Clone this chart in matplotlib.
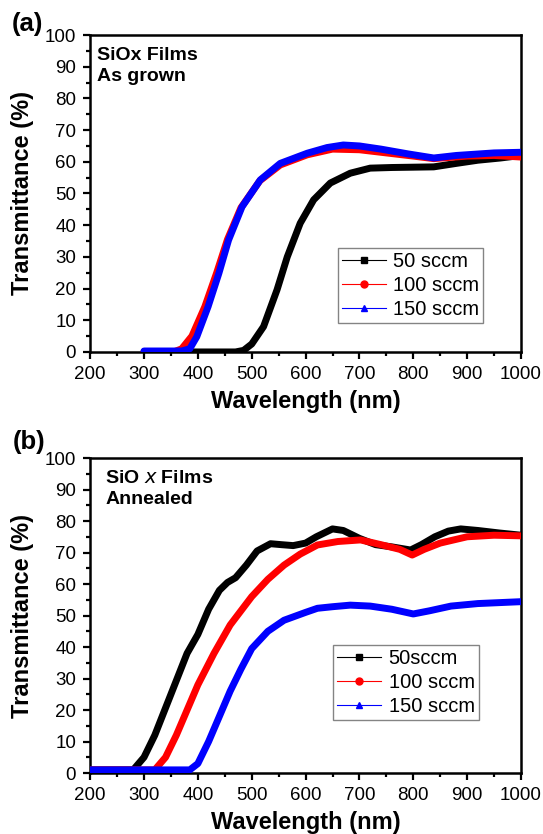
import matplotlib
matplotlib.use("Agg")
import matplotlib.pyplot as plt
from matplotlib.ticker import MultipleLocator

plt.rcParams["font.family"] = ["Liberation Sans", "DejaVu Sans"]

# ---- panel (a): as grown ----
a_black_x = [300, 400, 470, 485, 500, 522, 547, 566, 590, 615, 646, 683, 720, 760, 800, 838, 880, 920, 962, 1000]
a_black_y = [0, 0, 0, 0.5, 2.5, 8, 19.6, 30, 40.6, 48, 53.3, 56.4, 58, 58.2, 58.3, 58.4, 59.5, 60.5, 61.2, 62]
a_red_x = [300, 355, 370, 389, 413, 435, 455, 480, 515, 553, 603, 650, 700, 750, 800, 838, 900, 950, 1000]
a_red_y = [0, 0, 1, 5, 14.3, 25, 35.5, 45.5, 54, 59, 62.2, 64, 63.8, 62.8, 61.8, 61, 61.8, 62, 61.5]
a_blue_x = [300, 370, 385, 398, 419, 439, 457, 482, 516, 553, 603, 640, 670, 700, 740, 790, 838, 880, 950, 1000]
a_blue_y = [0.3, 0.3, 1, 4.8, 14.3, 24.8, 35.3, 45.8, 54.3, 59.5, 62.7, 64.5, 65.3, 65, 64, 62.5, 61.2, 62, 62.8, 63]

# ---- panel (b): annealed ----
b_black_x = [200, 280, 300, 320, 350, 380, 400, 420, 440, 455, 470, 490, 510, 535, 555, 577, 600, 620, 650, 670, 700, 730, 760, 795, 815, 840, 865, 888, 920, 960, 1000]
b_black_y = [1, 1, 5, 12, 25, 38, 44, 52, 58, 60.5, 62, 66, 70.5, 72.8, 72.5, 72.2, 73, 75, 77.5, 77, 74.5, 72.5, 71.8, 70.8, 72.5, 75, 76.8, 77.5, 77, 76.2, 75.5]
b_red_x = [200, 320, 340, 360, 380, 400, 430, 460, 500, 530, 560, 590, 622, 660, 702, 740, 775, 798, 820, 850, 900, 950, 1000]
b_red_y = [1, 1, 5, 12, 20, 28, 38, 47, 56, 61.5, 66, 69.5, 72.4, 73.5, 74, 72.5, 71, 69.2, 71, 73, 75, 75.5, 75.3]
b_blue_x = [200, 385, 400, 420, 440, 460, 480, 500, 530, 560, 600, 622, 650, 683, 720, 760, 800, 830, 870, 920, 1000]
b_blue_y = [1, 1, 3, 10, 18, 26, 33, 39.5, 45, 48.5, 51, 52.3, 52.8, 53.3, 53, 52, 50.5, 51.5, 53, 53.8, 54.4]

labels_a = ["50 sccm", "100 sccm", "150 sccm"]
labels_b = ["50sccm", "100 sccm", "150 sccm"]
colors = ["black", "red", "blue"]
markers = ["s", "o", "^"]

fig = plt.figure(figsize=(5.43, 8.34), dpi=100)
ax_a = fig.add_axes([0.166, 0.578, 0.7935, 0.380])
ax_b = fig.add_axes([0.166, 0.0731, 0.7935, 0.3777])

# axes, data, legend labels, note, tag, tag pos, note x, legend anchor
panels = [
    (ax_a, [(a_black_x, a_black_y), (a_red_x, a_red_y), (a_blue_x, a_blue_y)], labels_a,
     "SiOx Films\nAs grown", "(a)", (-0.183, 1.035), 0.016, (0.575, 0.091)),
    (ax_b, [(b_black_x, b_black_y), (b_red_x, b_red_y), (b_blue_x, b_blue_y)], labels_b,
     r"SiO $\mathit{x}$ Films" + "\nAnnealed", "(b)", (-0.18, 1.05), 0.035, (0.564, 0.168)),
]

for ax, series, labels, note, tag, tagpos, notex, legpos in panels:
    for (x, y), c, m, lab in zip(series, colors, markers, labels):
        ax.plot(x, y, color=c, lw=5, solid_capstyle="round", solid_joinstyle="round", zorder=3)
        ax.plot([], [], color=c, lw=0.8, marker=m, ms=5, label=lab)
    ax.set_xlim(200, 1000)
    ax.set_ylim(0, 100)
    ax.xaxis.set_major_locator(MultipleLocator(100))
    ax.xaxis.set_minor_locator(MultipleLocator(50))
    ax.yaxis.set_major_locator(MultipleLocator(10))
    ax.yaxis.set_minor_locator(MultipleLocator(5))
    ax.tick_params(which="major", direction="out", length=5, width=1.6, labelsize=13.5, pad=5)
    ax.tick_params(which="minor", direction="out", length=3, width=1.6)
    ax.tick_params(top=False, right=False)
    for s in ax.spines.values():
        s.set_linewidth(1.8)
    ax.set_xlabel("Wavelength (nm)", fontsize=17, fontweight="bold", labelpad=5)
    ax.set_ylabel("Transmittance (%)", fontsize=17, fontweight="bold", labelpad=8)
    ax.text(notex, 0.962, note, transform=ax.transAxes, ha="left", va="top",
            fontsize=14, fontweight="bold", linespacing=1.3)
    ax.text(tagpos[0], tagpos[1], tag, transform=ax.transAxes, ha="left", va="center",
            fontsize=18.5, fontweight="bold")
    leg = ax.legend(loc="lower left", bbox_to_anchor=legpos, fontsize=14.5, frameon=True,
                    fancybox=False, edgecolor="#666666", handlelength=2.2,
                    borderpad=0.2, labelspacing=0.25, handletextpad=0.35,
                    borderaxespad=0)
    leg.get_frame().set_linewidth(1.0)

fig.savefig("out.png", dpi=100)
